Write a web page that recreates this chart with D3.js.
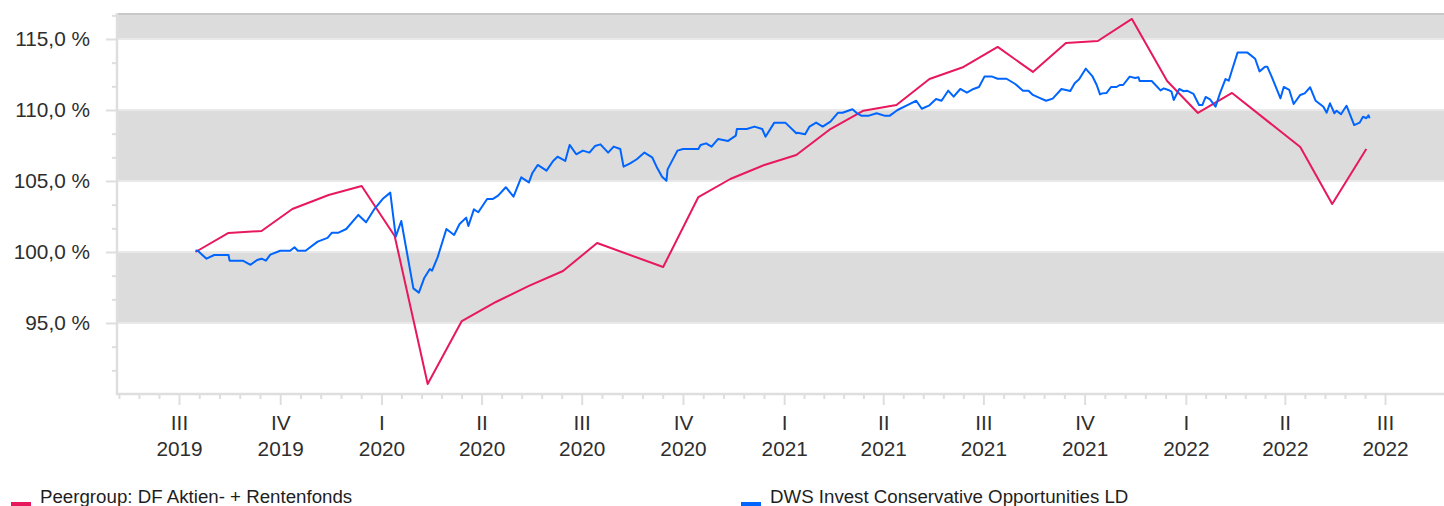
<!DOCTYPE html>
<html>
<head>
<meta charset="utf-8">
<script src="https://cdn.jsdelivr.net/npm/d3@7"></script>
<style>
  html, body { margin: 0; padding: 0; background: #fff; }
  svg { display: block; font-family: "Liberation Sans", Arial, sans-serif; }
</style>
</head>
<body>
<svg id="chart" width="1444" height="506"></svg>
<script>
// ---------------- DATA ----------------
const seriesNames = ["Peergroup: DF Aktien- + Rentenfonds", "DWS Invest Conservative Opportunities LD"];
const seriesColors = ["#e8185d", "#0064ff"];

const peerDates = ["2019-07-16","2019-08-15","2019-09-14","2019-10-12","2019-11-14","2019-12-14",
  "2020-01-13","2020-02-12","2020-03-14","2020-04-14","2020-05-14","2020-06-14","2020-07-15",
  "2020-09-13","2020-10-15","2020-11-13","2020-12-14","2021-01-12","2021-02-12","2021-03-14",
  "2021-04-13","2021-05-13","2021-06-13","2021-07-14","2021-08-15","2021-09-14","2021-10-13",
  "2021-11-13","2021-12-15","2022-01-12","2022-02-12","2022-04-15","2022-05-14","2022-06-14"];
const peerValues = [100.0,101.34,101.48,103.03,104.01,104.65,
  101.13,90.70,95.14,96.48,97.61,98.66,100.63,
  98.94,103.87,105.14,106.13,106.83,108.66,109.95,
  110.35,112.18,113.03,114.44,112.68,114.72,114.86,
  116.41,112.04,109.79,111.20,107.39,103.38,107.25];

const fundDates = ["2019-07-16","2019-07-18","2019-07-26","2019-08-02","2019-08-15","2019-08-16","2019-08-28",
  "2019-09-04","2019-09-10","2019-09-14","2019-09-18","2019-09-22","2019-10-01","2019-10-10","2019-10-14",
  "2019-10-17","2019-10-24","2019-11-04","2019-11-13","2019-11-17","2019-11-23","2019-11-30","2019-12-11",
  "2019-12-18","2019-12-25","2020-01-02","2020-01-09","2020-01-14","2020-01-19","2020-01-30","2020-02-04",
  "2020-02-09","2020-02-14","2020-02-16","2020-02-21","2020-02-29","2020-03-07","2020-03-12","2020-03-18",
  "2020-03-20","2020-03-25","2020-03-29","2020-04-06","2020-04-11","2020-04-16","2020-04-23","2020-04-30",
  "2020-05-07","2020-05-14","2020-05-17","2020-05-22","2020-05-30","2020-06-05","2020-06-09","2020-06-16",
  "2020-06-20","2020-06-26","2020-07-02","2020-07-08","2020-07-13","2020-07-18","2020-07-25","2020-07-30",
  "2020-08-05","2020-08-08","2020-08-14","2020-08-20","2020-08-27","2020-09-03","2020-09-07","2020-09-12",
  "2020-09-16","2020-09-17","2020-09-26","2020-10-01","2020-10-15","2020-10-17","2020-10-22","2020-10-27",
  "2020-11-02","2020-11-11","2020-11-18","2020-11-19","2020-11-28","2020-12-05","2020-12-12","2020-12-15",
  "2020-12-23","2021-01-02","2021-01-12","2021-01-13","2021-01-20","2021-01-24","2021-01-30","2021-02-05",
  "2021-02-12","2021-02-19","2021-02-23","2021-03-04","2021-03-09","2021-03-12","2021-03-19","2021-03-26",
  "2021-04-02","2021-04-07","2021-04-14","2021-04-23","2021-05-01","2021-05-06","2021-05-13","2021-05-19",
  "2021-05-24","2021-05-30","2021-06-04","2021-06-10","2021-06-16","2021-06-22","2021-06-27","2021-07-02",
  "2021-07-09","2021-07-14","2021-07-22","2021-07-30","2021-08-06","2021-08-11","2021-08-15","2021-08-21",
  "2021-08-27","2021-09-02","2021-09-10","2021-09-14","2021-09-18","2021-09-22","2021-09-26","2021-10-02",
  "2021-10-08","2021-10-12","2021-10-15","2021-10-17","2021-10-21","2021-10-25","2021-10-30","2021-11-02",
  "2021-11-05","2021-11-11","2021-11-16","2021-11-19","2021-11-20","2021-12-01","2021-12-09","2021-12-12",
  "2021-12-16","2021-12-19","2021-12-21","2021-12-26","2021-12-30","2022-01-02","2022-01-08","2022-01-13",
  "2022-01-16","2022-01-19","2022-01-23","2022-01-28","2022-02-01","2022-02-06","2022-02-09","2022-02-12",
  "2022-02-17","2022-02-26","2022-03-05","2022-03-09","2022-03-14","2022-03-16","2022-03-20","2022-03-28",
  "2022-03-31","2022-04-05","2022-04-09","2022-04-15","2022-04-19","2022-04-24","2022-04-29","2022-05-06",
  "2022-05-09","2022-05-12","2022-05-16","2022-05-18","2022-05-22","2022-05-27","2022-06-03","2022-06-08",
  "2022-06-11","2022-06-14","2022-06-16","2022-06-17"];
const fundValues = [100.10,100.08,99.53,99.79,99.79,99.39,99.39,
  99.10,99.44,99.53,99.39,99.81,100.09,100.09,100.33,
  100.09,100.09,100.73,100.99,101.36,101.36,101.62,102.61,
  102.09,102.96,103.73,104.18,101.08,102.18,97.44,97.14,
  98.19,98.80,98.68,99.62,101.62,101.20,101.97,102.42,
  101.83,103.00,102.80,103.73,103.73,103.97,104.56,103.90,
  105.26,104.90,105.54,106.13,105.73,106.41,106.71,106.41,
  107.54,106.88,107.14,107.00,107.46,107.58,107.00,107.42,
  107.25,106.01,106.24,106.53,107.00,106.67,106.01,105.30,
  105.02,105.82,107.14,107.25,107.25,107.54,107.65,107.42,
  107.96,107.82,108.19,108.66,108.66,108.83,108.66,108.12,
  109.11,109.11,108.36,108.40,108.29,108.83,109.11,108.83,
  109.18,109.81,109.81,110.05,109.72,109.60,109.60,109.77,
  109.60,109.60,110.00,110.35,110.65,110.09,110.33,110.77,
  110.65,111.36,110.94,111.48,111.22,111.48,111.62,112.35,
  112.35,112.20,112.20,111.83,111.36,111.36,111.06,110.85,
  110.65,110.80,111.48,111.41,111.34,111.88,112.16,112.91,
  112.39,111.76,111.10,111.17,111.20,111.62,111.62,111.76,
  111.76,112.35,112.25,112.30,112.04,112.04,111.38,111.52,
  111.41,111.29,110.70,111.48,111.32,111.36,111.13,110.35,
  110.35,110.92,110.75,110.23,111.17,112.18,112.06,112.82,
  114.04,114.04,113.61,112.72,113.05,113.05,112.35,110.82,
  111.62,111.41,110.42,111.06,111.17,111.60,110.65,110.23,
  109.81,110.47,109.77,109.95,109.70,110.30,108.94,109.11,
  109.53,109.42,109.63,109.42];

const quarterDates = ["2019-07-01","2019-10-01","2020-01-01","2020-04-01","2020-07-01","2020-10-01",
  "2021-01-01","2021-04-01","2021-07-01","2021-10-01","2022-01-01","2022-04-01","2022-07-01"];
const quarterLabels = ["III","IV","I","II","III","IV","I","II","III","IV","I","II","III"];
const yearLabels = ["2019","2019","2020","2020","2020","2020","2021","2021","2021","2021","2022","2022","2022"];
const yTickValues = [95, 100, 105, 110, 115];
const bandEdges = [90, 95, 100, 105, 110, 115, 116.83];

// ---------------- LAYOUT ----------------
const W = 1444, H = 506;
const plotLeft = 117, plotRight = 1444, plotTop = 13, plotBottom = 394;
const parse = d3.utcParse("%Y-%m-%d");
const axisFont = "20.8px";

const x = d3.scaleUtc()
  .domain([parse(quarterDates[0]), parse(quarterDates[quarterDates.length - 1])])
  .range([179, 1385]);
const y = d3.scaleLinear().domain([90, 116.83]).range([plotBottom, plotTop]);

const svg = d3.select("#chart");
const textColor = "#2e2e2e";
const axisGray = "#dedede";

// bands
const bands = d3.pairs(bandEdges).map((p, i) => ({ lo: p[0], hi: p[1], gray: i % 2 === 1 }));
svg.append("g").selectAll("rect").data(bands).join("rect")
  .attr("x", plotLeft).attr("width", plotRight - plotLeft)
  .attr("y", d => y(d.hi)).attr("height", d => y(d.lo) - y(d.hi))
  .attr("fill", d => d.gray ? "#dcdcdc" : "#ffffff");

// grid lines at band edges
svg.append("g").selectAll("line").data(yTickValues).join("line")
  .attr("x1", plotLeft).attr("x2", plotRight)
  .attr("y1", d => y(d)).attr("y2", d => y(d))
  .attr("stroke", "#e9e9e9").attr("stroke-width", 2);

// top border
svg.append("line").attr("x1", plotLeft).attr("x2", plotRight)
  .attr("y1", plotTop + 1).attr("y2", plotTop + 1)
  .attr("stroke", "#c8c8c8").attr("stroke-width", 2);

// ---- Y axis ----
const yMinor = d3.range(90, 116.8, 5 / 3).filter(v => Math.abs(v / 5 - Math.round(v / 5)) > 1e-6);
const yAxisMinor = svg.append("g").attr("transform", `translate(${plotLeft},0)`)
  .call(d3.axisLeft(y).tickValues(yMinor).tickSize(5).tickFormat(""));
const yAxis = svg.append("g").attr("transform", `translate(${plotLeft},0)`)
  .call(d3.axisLeft(y).tickValues(yTickValues).tickSize(11).tickPadding(16)
    .tickFormat(d => d3.format(".1f")(d).replace(".", ",") + " %"));
[yAxisMinor, yAxis].forEach(g => {
  g.select(".domain").remove();
  g.selectAll(".tick line").attr("stroke", axisGray).attr("stroke-width", 2);
});
yAxis.selectAll(".tick text").attr("fill", textColor)
  .style("font-size", axisFont).style("font-family", "'Liberation Sans', Arial, sans-serif");
svg.append("line").attr("x1", plotLeft).attr("x2", plotLeft)
  .attr("y1", plotTop).attr("y2", plotBottom + 1)
  .attr("stroke", axisGray).attr("stroke-width", 2.5);

// ---- X axis ----
const qDates = quarterDates.map(parse);
const firstQ = d3.utcMonth.offset(qDates[0], -3);
const allQ = [firstQ, ...qDates];
const xMinor = [];
d3.pairs(allQ).forEach(([a, b]) => {
  for (let k = 1; k < 5; k++) xMinor.push(new Date(+a + (b - a) * k / 5));
});
const xMinorVis = xMinor.filter(d => x(d) >= plotLeft);

const xAxisMinor = svg.append("g").attr("transform", `translate(0,${plotBottom})`)
  .call(d3.axisBottom(x).tickValues(xMinorVis).tickSize(5).tickFormat(""));
const xAxis = svg.append("g").attr("transform", `translate(0,${plotBottom})`)
  .call(d3.axisBottom(x).tickValues(qDates).tickSize(11).tickFormat(""));
[xAxisMinor, xAxis].forEach(g => {
  g.select(".domain").remove();
  g.selectAll(".tick line").attr("stroke", axisGray).attr("stroke-width", 2);
});
xAxis.selectAll(".tick").each(function (d, i) {
  const t = d3.select(this).append("text").attr("fill", textColor)
    .attr("text-anchor", "middle")
    .style("font-size", axisFont).style("font-family", "'Liberation Sans', Arial, sans-serif");
  t.append("tspan").attr("x", 0).attr("y", 35.5).text(quarterLabels[i]);
  t.append("tspan").attr("x", 0).attr("y", 61.5).text(yearLabels[i]);
});
svg.append("line").attr("x1", plotLeft - 1).attr("x2", plotRight)
  .attr("y1", plotBottom).attr("y2", plotBottom)
  .attr("stroke", axisGray).attr("stroke-width", 2.5);

// ---- Lines ----
const line = d3.line().x(d => x(d.date)).y(d => y(d.value));
const peer = peerDates.map((d, i) => ({ date: parse(d), value: peerValues[i] }));
const fund = fundDates.map((d, i) => ({ date: parse(d), value: fundValues[i] }));

svg.append("path").datum(peer).attr("d", line)
  .attr("fill", "none").attr("stroke", seriesColors[0]).attr("stroke-width", 2)
  .attr("stroke-linejoin", "round");
svg.append("path").datum(fund).attr("d", line)
  .attr("fill", "none").attr("stroke", seriesColors[1]).attr("stroke-width", 2)
  .attr("stroke-linejoin", "round");

// ---- Legend ----
const legendX = [11, 741];
const legend = svg.append("g").selectAll("g").data(seriesNames).join("g")
  .attr("transform", (d, i) => `translate(${legendX[i]},0)`);
legend.append("rect").attr("x", 0).attr("y", 502).attr("width", 20).attr("height", 10)
  .attr("fill", (d, i) => seriesColors[i]);
legend.append("text").attr("x", 29).attr("y", 503).attr("fill", "#1e1e1e")
  .style("font-size", "18.7px").text(d => d);
</script>
</body>
</html>
